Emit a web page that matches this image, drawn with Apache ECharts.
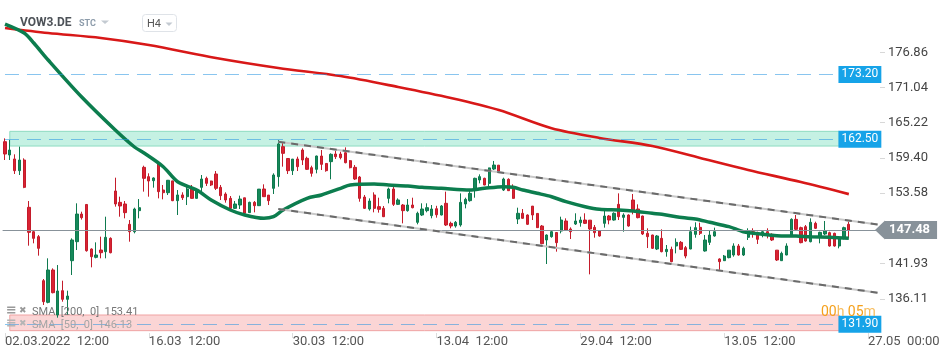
<!DOCTYPE html>
<html><head><meta charset="utf-8">
<script src="https://cdn.jsdelivr.net/npm/echarts@6/dist/echarts.min.js"></script>
<style>html,body{margin:0;padding:0;background:#fff}#c{width:949px;height:358px}</style>
</head><body><div id="c"></div>
<script>
// [open, close, low, high]
const candles = [
[162.08,160.04,159.05,162.63],[159.88,160.70,159.05,162.36],[159.22,157.29,156.74,159.99],[157.29,159.05,156.57,161.26],
[159.05,154.53,154.40,159.33],[151.23,147.09,144.89,152.27],[147.20,146.10,145.28,147.48],[146.38,144.45,143.24,146.65],
[139.10,135.63,135.08,139.38],[135.52,140.87,135.36,142.80],[140.87,137.12,137.01,141.14],[133.43,137.40,132.99,141.69],
[137.45,136.02,135.63,139.10],[136.02,136.57,133.43,137.45],[142.41,145.83,140.04,146.10],[145.55,150.12,144.17,151.89],
[150.12,149.52,149.20,150.51],[151.70,144.06,143.90,151.78],[144.34,143.07,141.31,144.45],[142.96,143.35,142.80,145.44],
[144.17,143.73,142.80,146.38],[143.90,146.27,142.80,149.68],[146.10,143.73,143.62,146.27],[153.93,151.78,151.34,156.13],
[152.05,151.45,149.68,152.99],[151.78,150.35,149.41,152.27],[148.42,147.20,145.55,149.13],[147.20,150.95,146.93,151.17],
[150.68,151.17,149.41,152.60],[157.84,156.02,153.82,158.11],[156.30,155.58,152.99,156.85],[155.63,156.08,154.48,156.19],
[158.50,153.82,152.71,158.67],[154.09,153.65,152.55,154.92],[153.65,155.70,153.27,155.75],[155.60,152.33,152.25,155.63],
[152.33,153.27,149.96,154.09],[153.27,152.82,152.44,153.71],[152.99,154.26,151.61,154.92],[154.26,152.71,152.65,154.92],
[152.71,154.05,152.65,154.09],[154.53,155.91,153.54,156.57],[156.02,155.19,154.75,156.30],[155.58,154.92,154.75,155.63],
[156.74,154.37,154.09,157.23],[154.53,153.16,152.44,154.92],[153.43,152.44,152.00,153.71],[152.71,151.06,150.79,153.10],
[151.06,151.78,150.95,152.27],[151.61,152.60,150.95,153.16],[152.80,150.24,149.96,152.82],[150.35,152.05,150.30,152.16],
[152.05,151.50,150.40,152.27],[151.50,154.24,151.45,154.26],[154.26,152.99,152.95,155.03],[153.25,152.33,151.61,153.27],
[154.37,156.57,153.43,156.85],[156.30,161.70,154.64,162.36],[161.26,160.15,157.95,161.97],[159.30,157.29,156.74,159.33],
[157.29,159.20,156.57,159.22],[159.22,157.95,157.23,159.60],[160.70,159.05,158.22,160.98],[159.33,157.51,157.40,159.60],
[157.78,156.85,156.30,158.11],[157.51,159.71,156.85,159.77],[159.71,158.33,157.40,160.70],[158.48,157.29,157.12,158.50],
[158.78,159.99,155.86,160.15],[160.04,159.60,159.22,160.54],[160.04,159.44,159.16,160.43],[160.26,158.61,158.50,161.14],
[158.94,157.78,157.67,159.05],[157.84,155.91,155.75,158.22],[156.24,152.71,152.16,156.41],[152.93,151.06,150.95,153.27],
[150.95,152.27,150.68,152.71],[153.27,151.06,150.40,153.71],[151.34,150.90,150.35,152.82],[151.06,149.68,149.62,151.45],
[152.71,154.26,151.89,154.48],[154.26,151.72,151.45,154.81],[151.72,152.44,151.61,152.71],[151.61,150.68,148.58,151.78],
[150.68,151.61,150.51,152.60],[151.61,151.17,151.06,152.82],[148.75,150.24,148.42,150.51],[149.96,150.95,149.79,151.89],
[150.68,151.17,150.40,151.89],[149.85,150.95,149.41,151.61],[151.00,150.00,149.52,151.48],[149.96,151.45,149.90,151.61],
[151.89,148.31,148.14,153.82],[148.58,148.14,147.76,148.86],[148.14,148.75,147.87,148.97],[148.31,152.05,148.03,153.54],
[151.78,152.55,151.06,152.82],[152.33,153.54,152.16,154.09],[154.09,156.02,152.82,156.13],[155.75,156.30,155.19,156.68],
[156.02,154.92,154.88,156.13],[155.19,157.75,154.37,157.78],[157.56,158.22,157.40,158.89],[158.20,157.12,157.08,158.22],
[154.09,155.91,153.93,156.13],[155.86,153.98,153.93,156.02],[154.48,152.71,152.65,155.03],[149.30,150.24,148.47,151.17],
[150.24,149.41,149.35,150.95],[149.96,148.42,148.31,150.07],[151.43,149.96,149.13,151.45],[150.22,147.87,147.82,150.24],
[148.14,145.22,145.11,148.31],[145.83,146.65,141.86,146.76],[146.38,147.20,146.21,147.31],[147.07,145.39,143.90,147.09],
[147.31,149.13,146.93,149.68],[148.97,147.48,147.42,149.41],[147.65,147.20,145.99,147.92],[148.47,148.97,148.31,150.24],
[148.69,149.13,148.03,149.68],[149.13,148.58,148.47,150.24],[149.11,147.65,140.15,149.13],[147.92,147.04,146.21,148.31],
[147.31,146.49,146.38,147.48],[148.58,149.79,147.87,151.06],[149.79,149.13,148.42,149.96],[149.13,150.24,149.02,150.40],
[151.72,149.68,149.13,153.54],[149.57,149.96,147.20,150.24],[149.96,148.14,148.03,150.07],[152.44,150.62,150.07,153.43],
[150.95,149.52,149.41,151.72],[149.79,146.82,146.65,149.85],[146.93,146.38,144.50,147.76],[146.65,144.45,144.34,146.70],
[144.34,146.49,144.17,146.65],[146.10,143.90,143.79,147.59],[143.90,144.28,143.07,145.00],[144.28,142.25,142.14,144.73],
[144.84,145.44,143.62,146.10],[145.44,144.28,144.17,145.66],[144.56,143.18,142.80,144.84],[144.34,147.20,144.30,148.03],
[146.76,147.87,146.21,148.75],[147.92,146.93,146.65,148.69],[144.01,145.83,143.90,146.65],[145.44,146.65,145.00,147.48],
[146.49,147.20,146.38,147.87],[142.69,142.25,140.70,142.80],[142.41,143.18,142.38,143.35],[142.91,144.15,142.80,144.17],
[143.35,144.84,143.07,145.28],[144.84,143.35,143.24,145.17],[143.35,144.45,143.18,144.73],[146.27,147.20,145.83,147.76],
[147.20,146.93,146.21,147.76],[147.04,145.94,145.17,147.20],[146.65,147.20,146.27,147.31],[147.20,146.65,146.10,147.76],
[146.76,145.83,145.66,146.93],[144.15,142.52,142.36,144.17],[142.41,143.62,142.38,143.90],[143.35,144.84,143.30,145.28],
[146.65,149.24,146.60,149.41],[149.24,147.59,147.48,149.96],[147.87,145.39,145.28,148.03],[148.03,145.66,145.55,148.31],
[145.55,148.75,145.44,149.41],[148.58,147.76,147.65,148.86],[146.38,147.09,145.28,147.20],[146.82,147.31,146.65,148.97],
[147.04,144.84,144.73,147.20],[146.93,144.84,144.73,147.04],[144.84,146.10,144.45,146.38],[146.10,147.87,145.94,148.03],
[148.42,147.48,146.10,148.86]
];

const sma50Idx = [0,4,6,9,16,23,27,29,33,36,40,43,47,50,54,56,58,63,66,70,72,77,80,84,87,91,97,100,104,106,108,111,114,117,121,124,128,131,135,137,140,144,147,151,154,158,161,165,168,172,176];
const sma50Val = [181.53,180.04,178.39,175.58,169.46,164.01,161.20,160.21,157.94,155.46,154.09,152.44,150.79,149.96,149.41,149.68,150.79,152.72,153.27,154.37,154.92,155.08,154.92,154.75,154.54,154.37,154.09,154.37,154.64,154.54,154.09,153.55,152.98,152.16,151.33,150.90,150.79,150.62,150.24,150.08,149.68,149.30,148.75,148.03,147.20,146.77,146.54,146.49,146.37,146.27,146.13];

const sma200Idx = [0,9,20,30,44,57,70,82,93,103,114,124,135,145,155,166,176];
const sma200Val = [180.87,180.04,179.22,178.06,175.91,174.26,172.93,171.12,169.30,167.31,164.30,162.70,161.36,159.38,157.40,155.41,153.41];

const channelIdx = [57, 182];
const channelUpper = [162.08, 148.39];
const channelLower = [150.95, 137.12];

const levels = ['173.20', '162.50', '131.90'];
const zoneGreen = [161.36, 163.79];
const zonePink = [130.84, 133.43];
const lastPrice = 147.48;
const legendText = ['SMA  [200,  0]  153.41', 'SMA  [50,  0]  146.13'];

const yTicks = [130.29, 136.11, 141.93, 153.58, 159.40, 165.22, 171.04, 176.86];
const xTickIdx = [0, 30, 60, 90, 120, 150, 180];
const xTickText = ['02.03.2022  12:00', '16.03  12:00', '30.03  12:00', '13.04  12:00', '29.04  12:00', '13.05  12:00', '27.05  00:00'];
const slotCount = 183;

const categories = [];
for (let i = 0; i < slotCount; i++) categories.push(String(i));
const pairs = (ix, vals) => ix.map((x, k) => [x, vals[k]]);

const chart = echarts.init(document.getElementById('c'), null, {renderer: 'canvas'});
const FONT = 'Roboto, "Noto Sans", sans-serif';

const option = {
  animation: false,
  textStyle: {fontFamily: FONT},
  grid: {left: 2.6, top: 0, width: 877.4, height: 333},
  xAxis: {
    type: 'category', data: categories, boundaryGap: true,
    axisLine: {show: false},
    axisTick: {show: true, interval: 29, alignWithLabel: true, length: 5, lineStyle: {color: '#dcdcdc'}},
    axisLabel: {
      interval: 29, align: 'left', margin: 2, color: '#555', fontSize: 13, fontFamily: FONT,
      formatter: (v) => { const k = xTickIdx.indexOf(Number(v)); return k >= 0 ? xTickText[k] : ''; }
    },
    splitLine: {show: false}
  },
  yAxis: {
    type: 'value', position: 'right', min: 130.455, max: 185.5, scale: true,
    splitLine: {show: false}, axisLine: {show: false},
    axisTick: {show: true, length: 5, lineStyle: {color: '#d8d8d8'}, customValues: yTicks},
    axisLabel: {
      customValues: yTicks, margin: 8, color: '#444', fontSize: 13, fontFamily: FONT,
      formatter: (v) => Math.abs(v - yTicks[0]) < 0.001 ? '{lo|' + v.toFixed(2) + '}' : v.toFixed(2),
      rich: {lo: {padding: [0, 0, 10, 0], color: '#444', fontSize: 13, fontFamily: FONT}}
    }
  },
  series: [
    {
      type: 'candlestick', name: 'VOW3.DE', data: candles, barWidth: 2.8, z: 3,
      itemStyle: {color: '#16895a', color0: '#d92333', borderColor: '#0f7a4f', borderColor0: '#c41c2b', borderWidth: 1},
      markArea: {
        silent: true,
        data: [
          [{coord: [1, zoneGreen[1]], itemStyle: {color: 'rgba(110,220,185,0.40)', borderColor: '#8edbc1', borderWidth: 1}}, {coord: [174, zoneGreen[0]]}],
          [{coord: [1, zonePink[1]], itemStyle: {color: 'rgba(245,150,150,0.4)', borderColor: '#f0a3a3', borderWidth: 1}}, {coord: [174, zonePink[0]]}]
        ]
      },
      markLine: {
        silent: true, symbol: 'none', animation: false,
        lineStyle: {color: 'rgba(40,150,225,0.55)', type: [14, 8], width: 1},
        label: {
          position: 'end', distance: 4, formatter: (p) => p.name,
          backgroundColor: '#16a3e8', color: '#fff', padding: [3, 3, 2, 3], fontSize: 12, fontFamily: FONT
        },
        emphasis: {disabled: true},
        data: levels.map(t => [{name: t, coord: [0, Number(t)]}, {coord: [173, Number(t)]}])
      }
    },
    {
      type: 'line', name: 'SMA200', data: pairs(sma200Idx, sma200Val), smooth: 0.3, symbol: 'none', z: 4,
      lineStyle: {color: '#d81818', width: 2.6}
    },
    {
      type: 'line', name: 'SMA50', data: pairs(sma50Idx, sma50Val), smooth: 0.3, symbol: 'none', z: 4,
      lineStyle: {color: '#0c7d4e', width: 3.5},
      markLine: {
        silent: true, symbol: ['none', 'triangle'], symbolSize: [19, 10], symbolRotate: 90,
        lineStyle: {color: '#88929a', type: 'solid', width: 1},
        label: {
          position: 'end', distance: 5, formatter: lastPrice.toFixed(2),
          backgroundColor: '#88929a', color: '#fff', fontSize: 13, fontWeight: 'bold', padding: [3, 7, 2, 4], fontFamily: FONT
        },
        emphasis: {disabled: true},
        data: [{yAxis: lastPrice}]
      }
    },
    {type: 'line', data: pairs(channelIdx, channelUpper), symbol: 'none', z: 5, lineStyle: {color: '#c9c9c9', width: 2}},
    {type: 'line', data: pairs(channelIdx, channelUpper), symbol: 'none', z: 6, lineStyle: {color: '#6a6a6a', width: 2, type: [7, 6]}},
    {type: 'line', data: pairs(channelIdx, channelLower), symbol: 'none', z: 5, lineStyle: {color: '#c9c9c9', width: 2}},
    {type: 'line', data: pairs(channelIdx, channelLower), symbol: 'none', z: 6, lineStyle: {color: '#6a6a6a', width: 2, type: [7, 6]}}
  ],
  graphic: [
    {type: 'text', x: 20, y: 23, z: 100, style: {text: 'VOW3.DE', fill: '#4d5258', font: 'bold 12px ' + FONT, verticalAlign: 'middle'}},
    {type: 'text', x: 79, y: 24, z: 100, style: {text: 'STC', fill: '#8d9cab', font: 'bold 9px ' + FONT, verticalAlign: 'middle'}},
    {type: 'polygon', z: 100, shape: {points: [[101, 20.5], [109, 20.5], [105, 24]]}, style: {fill: '#c3cad1'}},
    {type: 'rect', z: 100, shape: {x: 142.5, y: 14.5, width: 34, height: 17, r: 3}, style: {fill: '#fff', stroke: '#dfe3e8', lineWidth: 1}},
    {type: 'text', x: 147, y: 24, z: 101, style: {text: 'H4', fill: '#555', font: '11px ' + FONT, verticalAlign: 'middle'}},
    {type: 'polygon', z: 101, shape: {points: [[165.5, 22.5], [172.5, 22.5], [169, 26]]}, style: {fill: '#c3cad1'}},
    {type: 'text', x: 6, y: 311, z: 100, style: {text: '≡', fill: '#9a9a9a', font: 'bold 13px "DejaVu Sans"', verticalAlign: 'middle'}},
    {type: 'text', x: 19, y: 311, z: 100, style: {text: '✖', fill: '#9a9a9a', font: '9px "DejaVu Sans"', verticalAlign: 'middle'}},
    {type: 'text', x: 32, y: 312, z: 100, style: {text: legendText[0], fill: '#777', font: '11px ' + FONT, verticalAlign: 'middle'}},
    {type: 'text', x: 6, y: 324, z: 100, style: {text: '≡', fill: '#b5b5b5', font: 'bold 13px "DejaVu Sans"', verticalAlign: 'middle'}},
    {type: 'text', x: 19, y: 324, z: 100, style: {text: '✖', fill: '#b5b5b5', font: '9px "DejaVu Sans"', verticalAlign: 'middle'}},
    {type: 'text', x: 32, y: 325, z: 100, style: {text: legendText[1], fill: '#a5a5a5', font: '11px ' + FONT, verticalAlign: 'middle'}},
    {type: 'text', x: 821, y: 312, z: 100, style: {
      text: '{d|00}{u|h} {d|05}{u|m}', verticalAlign: 'middle',
      rich: {d: {fill: '#f5a11c', font: '14px ' + FONT}, u: {fill: '#f7bd5e', font: '14px ' + FONT}}
    }}
  ]
};
chart.setOption(option);
</script>
</body></html>
